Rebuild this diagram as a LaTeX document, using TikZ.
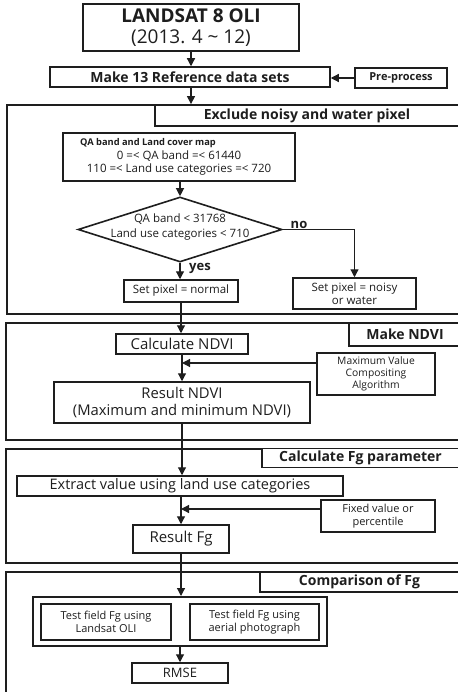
\documentclass[tikz,border=0pt]{standalone}
\usepackage{fontspec}
\setmainfont{Open Sans}
\usetikzlibrary{arrows.meta,shapes.geometric}
\definecolor{ink}{HTML}{1E1E1E}
\tikzset{
  x=1pt,y=-1pt,
  every node/.style={text=ink},
  box/.style={draw=ink,line width=1.5pt,inner sep=0pt,align=center,fill=white},
  sect/.style={draw=ink,line width=1.8pt,inner sep=0pt},
  hdr/.style={draw=ink,line width=1.5pt,inner sep=0pt,align=center,fill=white,font=\fsz{14}\bfseries},
  thick box/.style={box,line width=2pt},
  arr/.style={draw=ink,line width=1.2pt,-{Triangle[length=8pt,width=8pt]}},
}
\newcommand{\fsz}[1]{\fontsize{#1}{#1}\selectfont}
\begin{document}
\begin{tikzpicture}
\useasboundingbox[fill=white] (0,0) rectangle (457,692);
% sections
\node[sect,minimum width=453pt,minimum height=209pt] (s1) at (233.5,209.5) {};
\node[sect,minimum width=453pt,minimum height=117pt] (s2) at (232.5,381.5) {};
\node[sect,minimum width=453pt,minimum height=114pt] (s3) at (232.5,506) {};
\node[sect,minimum width=453pt,minimum height=122pt] (s4) at (232.5,633) {};
% headers
\node[hdr,minimum width=304pt,minimum height=21pt] (h1) at (307,115.5) {Exclude noisy and water pixel};
\node[hdr,minimum width=112pt,minimum height=23pt] (h2) at (405,334.5) {Make NDVI};
\node[hdr,minimum width=197pt,minimum height=19pt] (h3) at (360.5,458) {Calculate Fg parameter};
\node[hdr,minimum width=199pt,minimum height=20pt] (h4) at (359.5,582) {Comparison of Fg};
% top
\node[box,minimum width=216pt,minimum height=47pt,font=\fontsize{19}{21}\selectfont] (landsat) at (191,27.5)
  {\textbf{LANDSAT 8 OLI}\\(2013. 4 \textasciitilde{} 12)};
\node[box,minimum width=280pt,minimum height=20pt,font=\fsz{14}\bfseries] (make) at (190,77) {Make 13 Reference data sets};
\node[box,minimum width=92pt,minimum height=20pt,font=\fsz{11}\bfseries] (pre) at (401,78) {Pre-process};
% section 1
\node[box,minimum width=232pt,minimum height=48pt,font=\fsz{11.5}] (qa) at (179,157)
  {\mbox{\fsz{9.3}\bfseries QA band and Land cover map\hspace{62pt}}\\[2pt] 0 =< QA band =< 61440\\[2pt] 110 =< Land use categories =< 720};
\node[diamond,draw=ink,line width=1.6pt,inner sep=0pt,minimum width=204pt,minimum height=65pt] (dec) at (180,229.5) {};
\node[font=\fsz{11.5},align=center,inner sep=0pt] (dect) at (180,227) {QA band < 31768\\[3pt] Land use categories < 710};
\node[font=\fsz{13}\bfseries,inner sep=0pt] (no) at (299,225) {no};
\node[font=\fsz{13}\bfseries,inner sep=0pt] (yes) at (200,268) {yes};
\node[box,minimum width=114pt,minimum height=22pt,font=\fsz{11.5}] (normal) at (181,291) {Set pixel = normal};
\node[box,minimum width=123pt,minimum height=31pt,font=\fsz{11.5}] (noisy) at (354.5,293.5) {Set pixel = noisy\\[1pt] or water};
% section 2
\node[box,minimum width=132pt,minimum height=20pt,font=\fsz{15}] (calc) at (182,344) {Calculate NDVI};
\node[box,minimum width=118pt,minimum height=42pt,font=\fsz{10.3}] (mvc) at (376,374) {Maximum Value\\[2pt] Compositing\\[2pt] Algorithm};
\node[box,minimum width=256pt,minimum height=41pt,font=\fsz{14.8}] (resndvi) at (182,402.5) {Result NDVI\\[3pt] (Maximum and minimum NDVI)};
% section 3
\node[box,minimum width=326pt,minimum height=20pt,font=\fsz{14.5}] (extract) at (180,486) {Extract value using land use categories};
\node[box,minimum width=114pt,minimum height=32pt,font=\fsz{11}] (fixed) at (378,516) {Fixed value or\\[2pt] percentile};
\node[box,minimum width=96pt,minimum height=28pt,font=\fsz{15}] (resfg) at (181,539) {Result Fg};
% section 4
\node[thick box,minimum width=294pt,minimum height=49pt] (group) at (180,621.5) {};
\node[thick box,minimum width=130pt,minimum height=36pt,font=\fsz{11}] (t1) at (106,622) {Test field Fg using\\[2pt] Landsat OLI};
\node[thick box,minimum width=129pt,minimum height=36pt,font=\fsz{11}] (t2) at (254.5,622) {Test field Fg using\\[2pt] aerial photograph};
\node[box,minimum width=96pt,minimum height=20pt,font=\fsz{13}] (rmse) at (180,673) {RMSE};
% connectors
\draw[arr] (landsat.south) -- (landsat.south |- make.north);
\draw[arr] (pre.west) -- (pre.west -| make.east);
\draw[arr] (landsat.south |- make.south) -- (landsat.south |- s1.north);
\draw[arr] (dec.north |- qa.south) -- (dec.north);
\draw[arr] (dec.south) -- (dec.south |- normal.north);
\draw[arr] (dec.east) -- (dec.east -| noisy.north) -- (noisy.north);
\draw[arr] (normal.south) -- (normal.south |- calc.north);
\draw[arr] (calc.south) -- (calc.south |- resndvi.north);
\draw[arr] ([yshift=11pt]mvc.west) -- ([yshift=11pt]mvc.west -| calc.south);
\draw[arr] (resndvi.south) -- (resndvi.south |- extract.north);
\draw[arr] (resfg.north |- extract.south) -- (resfg.north);
\draw[arr] ([yshift=7pt]fixed.west) -- ([yshift=7pt]fixed.west -| resfg.north);
\draw[arr] (resfg.south) -- (resfg.south |- group.north);
\draw[arr] (rmse.north |- group.south) -- (rmse.north);
\end{tikzpicture}
\end{document}
